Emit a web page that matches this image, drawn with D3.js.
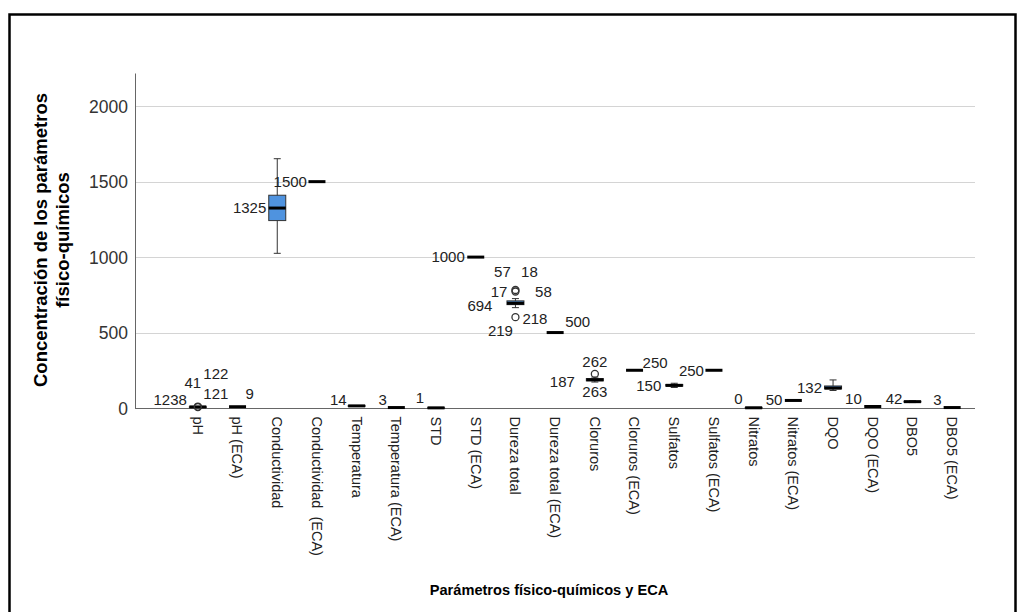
<!DOCTYPE html>
<meta charset="utf-8">
<style>
body { margin: 0; background: #fff; }
.chart text { font-family: "Liberation Sans", Arial, sans-serif; fill: #222; }
.chart .grid line { stroke: #d4d4d4; stroke-width: 1; }
.chart .box { fill: #4f93df; stroke: #333; stroke-width: 1; }
.chart .whisker { stroke: #333; stroke-width: 1; }
.chart .median { stroke: #000; stroke-width: 3; }
.chart .outlier { fill: none; stroke: #333; stroke-width: 1.3; }
.chart .axis path { stroke: #666; }
.chart .axis text { font-size: 17.5px; fill: #333; }
.chart .xaxis text { font-size: 14.5px; fill: #222; white-space: pre; }
.chart .vlabel { font-size: 15px; }
.chart .title { font-weight: bold; fill: #000; }
</style>
<body>
<svg class="chart js-chart"></svg>

<script src="https://cdn.jsdelivr.net/npm/d3@7"></script>
<script>
"use strict";

var categories = ["pH", "pH (ECA)", "Conductividad", "Conductividad  (ECA)", "Temperatura",
    "Temperatura (ECA)", "STD", "STD (ECA)", "Dureza total", "Dureza total (ECA)", "Cloruros",
    "Cloruros (ECA)", "Sulfatos", "Sulfatos (ECA)", "Nitratos", "Nitratos (ECA)", "DQO",
    "DQO (ECA)", "DBO5", "DBO5 (ECA)"];

// [min, q1, median, q3, max] per category; ECA limits are single values
var boxStats = [
    [6.5, 6.9, 7.3, 7.7, 8.2],
    [8.5, 8.5, 8.5, 8.5, 8.5],
    [1025, 1242, 1325, 1410, 1652],
    [1500, 1500, 1500, 1500, 1500],
    [12, 13, 14, 15, 16],
    [3, 3, 3, 3, 3],
    [0.5, 0.8, 1, 1.2, 1.5],
    [1000, 1000, 1000, 1000, 1000],
    [665, 685, 694, 710, 725],
    [500, 500, 500, 500, 500],
    [172, 180, 187, 195, 205],
    [250, 250, 250, 250, 250],
    [136, 145, 150, 156, 164],
    [250, 250, 250, 250, 250],
    [0.5, 1, 1.5, 2, 3],
    [50, 50, 50, 50, 50],
    [116, 127, 132, 146, 186],
    [10, 10, 10, 10, 10],
    [36, 39, 42, 45, 48],
    [3, 3, 3, 3, 3]
];

var outliers = [
    ["pH", 9.6], ["pH", 5.4],
    ["Dureza total", 782], ["Dureza total", 772], ["Dureza total", 602],
    ["Cloruros", 226]
];

// text, category, value it refers to
var valueLabels = [
    ["1238", "pH", 7.3], ["41", "pH", 7.3], ["122", "pH", 7.3], ["121", "pH", 7.3],
    ["9", "pH (ECA)", 8.5], ["1325", "Conductividad", 1325], ["1500", "Conductividad  (ECA)", 1500],
    ["14", "Temperatura", 14], ["3", "Temperatura (ECA)", 3], ["1", "STD", 1],
    ["1000", "STD (ECA)", 1000], ["57", "Dureza total", 782], ["18", "Dureza total", 782],
    ["17", "Dureza total", 772], ["58", "Dureza total", 772], ["694", "Dureza total", 694],
    ["218", "Dureza total", 602], ["219", "Dureza total", 602], ["500", "Dureza total (ECA)", 500],
    ["262", "Cloruros", 226], ["263", "Cloruros", 187], ["187", "Cloruros", 187],
    ["250", "Cloruros (ECA)", 250], ["150", "Sulfatos", 150], ["250", "Sulfatos (ECA)", 250],
    ["0", "Nitratos", 1.5], ["50", "Nitratos (ECA)", 50], ["132", "DQO", 132],
    ["10", "DQO (ECA)", 10], ["42", "DBO5", 42], ["3", "DBO5 (ECA)", 3]
];

// label placement next to its mark: dx, dy (px), text-anchor
var labelPlacement = [
    [-11, -7, "end"], [-5, -24, "middle"], [18, -33, "middle"], [18, -13, "middle"],
    [12, -13, "middle"], [-11, 0, "end"], [-10, 0, "end"],
    [-10, -6, "end"], [-9.5, -7.5, "end"], [-12, -10, "end"],
    [-11, 0, "end"], [-13, -18, "middle"], [14, -18, "middle"],
    [-8, 0, "end"], [28, 0, "middle"], [-23, 2, "end"],
    [7, 1, "start"], [-15, 13, "middle"], [10, -11, "start"],
    [0, -12, "middle"], [0, 12, "middle"], [-20, 2, "end"],
    [8, -8, "start"], [-13, 0, "end"], [-10, 0, "end"],
    [-11, -9, "end"], [-11, -1, "end"], [-11, 0, "end"],
    [-11, -7.5, "end"], [-10, -3, "end"], [-10.5, -8, "end"]
];

var yTicks = [0, 500, 1000, 1500, 2000];
var yTitle = ["Concentración de los parámetros", "físico-químicos"];
var xTitle = "Parámetros físico-químicos y ECA";

var width = 1019, height = 612,
    axisLeft = 135, axisRight = 975, axisTop = 73, axisBottom = 408,
    boxWidth = 17, capWidth = 7;

var svg = d3.select(".js-chart")
    .attr("width", width)
    .attr("height", height);

svg.append("rect")
    .attr("x", 9.5).attr("y", 14.5)
    .attr("width", 1006).attr("height", 620)
    .attr("fill", "none").attr("stroke", "#000").attr("stroke-width", 2.5);

var y = d3.scaleLinear().domain([0, 2220]).range([axisBottom, axisTop]);
var x = d3.scaleBand().domain(categories).range([178, 972]);
var cx = function(c) { return x(c) + x.bandwidth() / 2; };

// gridlines
svg.append("g").attr("class", "grid")
    .selectAll("line")
    .data(yTicks.filter(function(d) { return d > 0; }))
    .join("line")
    .attr("x1", axisLeft).attr("x2", axisRight)
    .attr("y1", function(d) { return Math.round(y(d)) + 0.5; })
    .attr("y2", function(d) { return Math.round(y(d)) + 0.5; });

// y axis
var yAxis = svg.append("g").attr("class", "axis")
    .attr("transform", "translate(" + axisLeft + ",0)")
    .call(d3.axisLeft(y).tickValues(yTicks).tickFormat(d3.format("d"))
        .tickSize(0).tickPadding(7));
yAxis.select(".domain").attr("stroke", "#888");
yAxis.selectAll("text").attr("dy", "0.36em");

// x axis
var xAxis = svg.append("g").attr("class", "axis xaxis")
    .attr("transform", "translate(0," + axisBottom + ")")
    .call(d3.axisBottom(x).tickSize(0).tickSizeOuter(0));
xAxis.select(".domain")
    .attr("d", "M" + axisLeft + ",0.5H" + axisRight)
    .attr("stroke", "#555");
xAxis.selectAll(".tick text")
    .attr("transform", "rotate(90)")
    .attr("x", 8.5).attr("y", 0).attr("dy", "0.35em")
    .style("text-anchor", "start");

// boxes
var boxes = svg.append("g").selectAll("g")
    .data(categories.map(function(c, i) { return { cat: c, s: boxStats[i] }; }))
    .join("g")
    .attr("transform", function(d) { return "translate(" + cx(d.cat) + ",0)"; });

boxes.filter(function(d) { return d.s[0] !== d.s[4]; }).each(function(d) {
    var g = d3.select(this), s = d.s;
    g.append("line").attr("class", "whisker")
        .attr("x1", 0).attr("x2", 0).attr("y1", y(s[4])).attr("y2", y(s[0]));
    [s[0], s[4]].forEach(function(v) {
        g.append("line").attr("class", "whisker")
            .attr("x1", -capWidth / 2).attr("x2", capWidth / 2)
            .attr("y1", y(v)).attr("y2", y(v));
    });
    g.append("rect").attr("class", "box")
        .attr("x", -boxWidth / 2).attr("width", boxWidth)
        .attr("y", y(s[3])).attr("height", Math.max(0.5, y(s[1]) - y(s[3])));
});

boxes.append("line").attr("class", "median")
    .attr("x1", -boxWidth / 2).attr("x2", boxWidth / 2)
    .attr("y1", function(d) { return y(d.s[2]); })
    .attr("y2", function(d) { return y(d.s[2]); });

// outliers
svg.append("g").selectAll("circle")
    .data(outliers)
    .join("circle").attr("class", "outlier")
    .attr("cx", function(d) { return cx(d[0]); })
    .attr("cy", function(d) { return y(d[1]); })
    .attr("r", 3.5);

// value labels
svg.append("g").selectAll("text")
    .data(valueLabels)
    .join("text").attr("class", "vlabel")
    .attr("x", function(d, i) { return cx(d[1]) + labelPlacement[i][0]; })
    .attr("y", function(d, i) { return y(d[2]) + labelPlacement[i][1]; })
    .attr("dy", "0.36em")
    .attr("text-anchor", function(d, i) { return labelPlacement[i][2]; })
    .text(function(d) { return d[0]; });

// titles
var yt = svg.append("text").attr("class", "title")
    .style("font-size", "18.5px")
    .attr("transform", "translate(0,240) rotate(-90)")
    .attr("text-anchor", "middle");
yt.selectAll("tspan").data(yTitle).join("tspan")
    .attr("x", 0).attr("y", function(d, i) { return 47 + i * 22; })
    .text(function(d) { return d; });

svg.append("text").attr("class", "title")
    .style("font-size", "14.6px")
    .attr("x", 549).attr("y", 595)
    .attr("text-anchor", "middle")
    .text(xTitle);
</script>
</body>
